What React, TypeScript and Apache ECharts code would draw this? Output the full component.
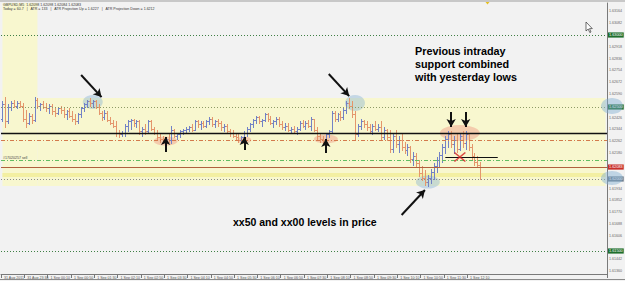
import React, { useEffect, useRef } from "react";
import * as echarts from "echarts";

// ---- OHLC data (GBPUSD M5) ----
const opens = [
  1.6242, 1.6252, 1.6240, 1.6250, 1.6253, 1.6251, 1.6253, 1.6251, 1.6242, 1.6239,
  1.6244, 1.6241, 1.6255, 1.6251, 1.6252, 1.6250, 1.6249, 1.6251, 1.6247, 1.6246,
  1.6249, 1.6248, 1.6245, 1.6247, 1.6244, 1.6242, 1.6240, 1.6245, 1.6249, 1.6252,
  1.6254, 1.6253, 1.6254, 1.6250, 1.6246, 1.6243, 1.6246, 1.6241, 1.6239, 1.6237,
  1.6232, 1.6231, 1.6232, 1.6237, 1.6240, 1.6241, 1.6239, 1.6240, 1.6233, 1.6235,
  1.6233, 1.6240, 1.6235, 1.6232, 1.6229, 1.6228, 1.6226, 1.6228, 1.6227, 1.6234,
  1.6230, 1.6231, 1.6233, 1.6234, 1.6235, 1.6236, 1.6234, 1.6240, 1.6238, 1.6239,
  1.6237, 1.6240, 1.6242, 1.6238, 1.6240, 1.6239, 1.6236, 1.6237, 1.6233, 1.6232,
  1.6230, 1.6229, 1.6227, 1.6229, 1.6232, 1.6235, 1.6238, 1.6241, 1.6243, 1.6240,
  1.6241, 1.6245, 1.6242, 1.6239, 1.6240, 1.6242, 1.6238, 1.6236, 1.6237, 1.6234,
  1.6235, 1.6233, 1.6235, 1.6239, 1.6237, 1.6239, 1.6237, 1.6242, 1.6234, 1.6230,
  1.6228, 1.6227, 1.6231, 1.6233, 1.6246, 1.6242, 1.6245, 1.6243, 1.6248, 1.6253,
  1.6251, 1.6245, 1.6231, 1.6237, 1.6240, 1.6238, 1.6236, 1.6233, 1.6237, 1.6235,
  1.6236, 1.6229, 1.6234, 1.6229, 1.6221, 1.6230, 1.6224, 1.6227, 1.6222, 1.6220,
  1.6222, 1.6214, 1.6216, 1.6211, 1.6204, 1.6201, 1.6198, 1.6201, 1.6205, 1.6209,
  1.6213, 1.6217, 1.6222, 1.6228, 1.6231, 1.6224, 1.6227, 1.6221, 1.6230, 1.6225,
  1.6231, 1.6222, 1.6216, 1.6212, 1.6210,
];
const highs = [
  1.6254, 1.6257, 1.6252, 1.6254, 1.6255, 1.6254, 1.6254, 1.6253, 1.6248, 1.6246,
  1.6245, 1.6257, 1.6256, 1.6253, 1.6254, 1.6253, 1.6252, 1.6252, 1.6249, 1.6250,
  1.6251, 1.6250, 1.6248, 1.6249, 1.6247, 1.6245, 1.6246, 1.6250, 1.6253, 1.6255,
  1.6256, 1.6255, 1.6255, 1.6252, 1.6247, 1.6248, 1.6247, 1.6243, 1.6241, 1.6240,
  1.6234, 1.6233, 1.6238, 1.6241, 1.6242, 1.6242, 1.6241, 1.6241, 1.6236, 1.6238,
  1.6241, 1.6241, 1.6236, 1.6234, 1.6231, 1.6230, 1.6229, 1.6231, 1.6237, 1.6235,
  1.6232, 1.6234, 1.6235, 1.6236, 1.6237, 1.6238, 1.6241, 1.6241, 1.6240, 1.6240,
  1.6241, 1.6243, 1.6243, 1.6241, 1.6242, 1.6240, 1.6238, 1.6238, 1.6235, 1.6234,
  1.6232, 1.6231, 1.6230, 1.6233, 1.6236, 1.6239, 1.6242, 1.6244, 1.6244, 1.6242,
  1.6246, 1.6246, 1.6244, 1.6241, 1.6243, 1.6243, 1.6240, 1.6239, 1.6239, 1.6236,
  1.6237, 1.6236, 1.6240, 1.6241, 1.6240, 1.6241, 1.6243, 1.6242, 1.6236, 1.6232,
  1.6230, 1.6232, 1.6234, 1.6247, 1.6247, 1.6246, 1.6247, 1.6249, 1.6254, 1.6256,
  1.6254, 1.6247, 1.6238, 1.6242, 1.6241, 1.6240, 1.6238, 1.6238, 1.6240, 1.6238,
  1.6240, 1.6236, 1.6235, 1.6234, 1.6232, 1.6234, 1.6230, 1.6231, 1.6226, 1.6224,
  1.6223, 1.6219, 1.6218, 1.6213, 1.6209, 1.6206, 1.6203, 1.6207, 1.6211, 1.6215,
  1.6219, 1.6224, 1.6230, 1.6233, 1.6233, 1.6230, 1.6231, 1.6232, 1.6233, 1.6233,
  1.6232, 1.6224, 1.6218, 1.6216, 1.6212,
];
const lows = [
  1.6240, 1.6236, 1.6239, 1.6248, 1.6250, 1.6249, 1.6250, 1.6240, 1.6236, 1.6238,
  1.6239, 1.6240, 1.6249, 1.6248, 1.6249, 1.6247, 1.6246, 1.6245, 1.6244, 1.6245,
  1.6246, 1.6243, 1.6242, 1.6243, 1.6240, 1.6238, 1.6239, 1.6243, 1.6247, 1.6250,
  1.6251, 1.6250, 1.6249, 1.6245, 1.6241, 1.6242, 1.6240, 1.6238, 1.6236, 1.6230,
  1.6229, 1.6230, 1.6230, 1.6233, 1.6235, 1.6237, 1.6236, 1.6231, 1.6230, 1.6231,
  1.6232, 1.6234, 1.6231, 1.6228, 1.6226, 1.6225, 1.6225, 1.6226, 1.6225, 1.6229,
  1.6228, 1.6229, 1.6231, 1.6232, 1.6233, 1.6233, 1.6234, 1.6236, 1.6235, 1.6236,
  1.6236, 1.6238, 1.6237, 1.6236, 1.6237, 1.6234, 1.6233, 1.6232, 1.6230, 1.6229,
  1.6227, 1.6226, 1.6225, 1.6227, 1.6230, 1.6233, 1.6236, 1.6239, 1.6239, 1.6237,
  1.6240, 1.6240, 1.6238, 1.6236, 1.6238, 1.6237, 1.6235, 1.6234, 1.6233, 1.6232,
  1.6232, 1.6231, 1.6234, 1.6236, 1.6235, 1.6236, 1.6234, 1.6233, 1.6228, 1.6226,
  1.6225, 1.6226, 1.6229, 1.6232, 1.6240, 1.6240, 1.6241, 1.6242, 1.6246, 1.6249,
  1.6243, 1.6228, 1.6230, 1.6235, 1.6236, 1.6234, 1.6232, 1.6231, 1.6234, 1.6233,
  1.6228, 1.6228, 1.6227, 1.6219, 1.6219, 1.6222, 1.6219, 1.6220, 1.6218, 1.6217,
  1.6212, 1.6210, 1.6209, 1.6202, 1.6199, 1.6196, 1.6195, 1.6197, 1.6200, 1.6205,
  1.6208, 1.6212, 1.6218, 1.6222, 1.6222, 1.6218, 1.6219, 1.6220, 1.6222, 1.6221,
  1.6220, 1.6214, 1.6210, 1.6208, 1.6200,
];
const closes = [
  1.6252, 1.6240, 1.6250, 1.6253, 1.6251, 1.6253, 1.6251, 1.6242, 1.6239, 1.6244,
  1.6241, 1.6255, 1.6251, 1.6252, 1.6250, 1.6249, 1.6251, 1.6247, 1.6246, 1.6249,
  1.6248, 1.6245, 1.6247, 1.6244, 1.6242, 1.6240, 1.6245, 1.6249, 1.6252, 1.6254,
  1.6253, 1.6254, 1.6250, 1.6246, 1.6243, 1.6246, 1.6241, 1.6239, 1.6237, 1.6232,
  1.6231, 1.6232, 1.6237, 1.6240, 1.6241, 1.6239, 1.6240, 1.6233, 1.6235, 1.6233,
  1.6240, 1.6235, 1.6232, 1.6229, 1.6228, 1.6226, 1.6228, 1.6227, 1.6234, 1.6230,
  1.6231, 1.6233, 1.6234, 1.6235, 1.6236, 1.6234, 1.6240, 1.6238, 1.6239, 1.6237,
  1.6240, 1.6242, 1.6238, 1.6240, 1.6239, 1.6236, 1.6237, 1.6233, 1.6232, 1.6230,
  1.6229, 1.6227, 1.6229, 1.6232, 1.6235, 1.6238, 1.6241, 1.6243, 1.6240, 1.6241,
  1.6245, 1.6242, 1.6239, 1.6240, 1.6242, 1.6238, 1.6236, 1.6237, 1.6234, 1.6235,
  1.6233, 1.6235, 1.6239, 1.6237, 1.6239, 1.6237, 1.6242, 1.6234, 1.6230, 1.6228,
  1.6227, 1.6231, 1.6233, 1.6246, 1.6242, 1.6245, 1.6243, 1.6248, 1.6253, 1.6251,
  1.6245, 1.6231, 1.6237, 1.6240, 1.6238, 1.6236, 1.6233, 1.6237, 1.6235, 1.6236,
  1.6229, 1.6234, 1.6229, 1.6221, 1.6230, 1.6224, 1.6227, 1.6222, 1.6220, 1.6222,
  1.6214, 1.6216, 1.6211, 1.6204, 1.6201, 1.6198, 1.6201, 1.6205, 1.6209, 1.6213,
  1.6217, 1.6222, 1.6228, 1.6231, 1.6224, 1.6227, 1.6221, 1.6230, 1.6225, 1.6231,
  1.6222, 1.6216, 1.6212, 1.6210, 1.62083,
];

// ---- axis labels ----
const xTickLabels = [
  "31 Aug 2011", "31 Aug 23:30", "1 Sep 00:10", "1 Sep 00:50", "1 Sep 01:30",
  "1 Sep 02:10", "1 Sep 02:50", "1 Sep 03:30", "1 Sep 04:10", "1 Sep 04:50",
  "1 Sep 05:30", "1 Sep 06:10", "1 Sep 06:50", "1 Sep 07:30", "1 Sep 08:10",
  "1 Sep 08:50", "1 Sep 09:30", "1 Sep 10:10", "1 Sep 10:50", "1 Sep 11:30",
  "1 Sep 12:10",
];
const yTickValues = [
  1.63164, 1.63082, 1.62918, 1.62836, 1.62754, 1.62672, 1.6259, 1.62426,
  1.62344, 1.62262, 1.6218, 1.61934, 1.61852, 1.6177, 1.61688, 1.61606,
  1.61442, 1.6136,
];

// levels (horizontal lines)
const levelPrices = {
  round163: 1.63,
  round1625: 1.625,
  support: 1.62319,
  orangeDash: 1.62271,
  sellOrder: 1.62132,
  bid: 1.62083,
  round162: 1.62,
  round1615: 1.615,
  shortLine: 1.62153,
};

const N_CATS = 208;
const LABEL_STEP = 8;
const startMs = Date.UTC(2011, 7, 31, 22, 50);
const categories = Array.from({ length: N_CATS }, (_, i) => {
  const d = new Date(startMs + i * 5 * 60000);
  const hh = String(d.getUTCHours()).padStart(2, "0");
  const mm = String(d.getUTCMinutes()).padStart(2, "0");
  return `${d.getUTCDate()} ${d.getUTCMonth() === 7 ? "Aug" : "Sep"} ${hh}:${mm}`;
});

const Y_MIN = 1.613403;
const Y_MAX = 1.632222;
const UP = "#7282c6";
const DOWN = "#e4966c";
const FONT = "'Liberation Sans', Arial, sans-serif";

const ohlc = opens.map((o, i) => [i, o, closes[i], lows[i], highs[i]]);

// annotation anchors (category index, price)
const blueSpots = [
  { at: [31, 1.62535], size: [20, 14] },
  { at: [121, 1.62528], size: [20, 16] },
  { at: [146, 1.61979], size: [24, 13] },
];
const redSpots = [
  { at: [56, 1.62264], size: [24, 9] },
  { at: [83, 1.62271], size: [14, 7] },
  { at: [111, 1.62278], size: [24, 9] },
  { at: [157, 1.62319], size: [40, 16] },
];
const arrows = [
  [[27, 1.62722], [34, 1.62569]],
  [[112, 1.62729], [119, 1.62576]],
  [[56, 1.62188], [56, 1.62292]],
  [[83, 1.62201], [83, 1.62292]],
  [[111, 1.62181], [111, 1.62278]],
  [[154, 1.62465], [154, 1.62361]],
  [[159, 1.62465], [159, 1.62361]],
  [[137, 1.6175], [145, 1.61924]],
];

function priceLabel(text: string, bg: string) {
  return {
    show: true,
    position: "end",
    formatter: text,
    distance: 1,
    color: "#fff",
    fontSize: 3.8,
    fontFamily: FONT,
    backgroundColor: bg,
    padding: [0.6, 1],
  };
}

export default function App() {
  const ref = useRef<HTMLDivElement>(null);
  useEffect(() => {
    const chart = echarts.init(ref.current!, null, { renderer: "svg" });
    const option: any = {
      animation: false,
      backgroundColor: "#f2f2f2",
      grid: { left: 1, right: 15, top: 3, bottom: 7, containLabel: false },
      xAxis: {
        type: "category",
        data: categories,
        boundaryGap: true,
        axisLine: { lineStyle: { color: "#7a7a7a", width: 1 } },
        axisTick: {
          show: true,
          length: 4,
          interval: (i: number) => i % LABEL_STEP === 0 && i / LABEL_STEP < xTickLabels.length,
          lineStyle: { color: "#777" },
        },
        axisLabel: {
          interval: (i: number) => i % LABEL_STEP === 0 && i / LABEL_STEP < xTickLabels.length,
          formatter: (_v: string, i: number) => xTickLabels[i / LABEL_STEP] ?? "",
          fontSize: 3.6,
          color: "#555",
          fontFamily: FONT,
          align: "left",
          margin: 1.5,
          padding: [0, 0, 0, 1.5],
        },
        splitLine: { show: false },
      },
      yAxis: {
        type: "value",
        position: "right",
        min: Y_MIN,
        max: Y_MAX,
        axisLine: { show: true, lineStyle: { color: "#7a7a7a", width: 1 } },
        axisTick: { show: false },
        splitLine: { show: false },
        axisLabel: {
          customValues: yTickValues,
          formatter: (v: number) => v.toFixed(5),
          fontSize: 3.6,
          color: "#666",
          fontFamily: FONT,
          margin: 2,
        },
      },
      series: [
        {
          name: "bands",
          type: "line",
          data: [],
          z: 0,
          silent: true,
          markArea: {
            silent: true,
            data: [
              [
                { xAxis: 0, yAxis: Y_MAX, itemStyle: { color: "#f8f7cf" } },
                { xAxis: 12, yAxis: 1.61951 },
              ],
              [
                { xAxis: 12, yAxis: 1.62563, itemStyle: { color: "#f8f7cf" } },
                { xAxis: N_CATS - 1, yAxis: 1.61951 },
              ],
              [
                { xAxis: 0, yAxis: 1.62042, itemStyle: { color: "#f3efa2" } },
                { xAxis: N_CATS - 1, yAxis: 1.62014 },
              ],
            ],
          },
        },
        {
          name: "levels",
          type: "line",
          data: [],
          z: 1,
          silent: true,
          markLine: {
            silent: true,
            symbol: ["none", "none"],
            precision: 5,
            data: [
              { yAxis: levelPrices.round163, lineStyle: { color: "#3f7f45", type: [1, 2], width: 1 }, label: priceLabel("1.63000", "#1e6e2c") },
              { yAxis: levelPrices.round1625, lineStyle: { color: "#8e9a66", type: [1, 2], width: 1 }, label: priceLabel("1.62500", "#1e6e2c") },
              { yAxis: levelPrices.support, lineStyle: { color: "#111", type: "solid", width: 1.4 }, label: { show: false } },
              { yAxis: levelPrices.orangeDash, lineStyle: { color: "#d47a4c", type: [4, 2, 1, 2], width: 1 }, label: { show: false } },
              { yAxis: levelPrices.sellOrder, lineStyle: { color: "#62bd62", type: [4, 2, 1, 2], width: 1 }, label: { show: false } },
              { yAxis: levelPrices.bid, lineStyle: { color: "#b0603e", type: "solid", width: 1 }, label: priceLabel("1.62083", "#c8302a") },
              { yAxis: levelPrices.round162, lineStyle: { color: "#8a8a8a", type: [1, 2], width: 1 }, label: priceLabel("1.62000", "#6d7c8c") },
              { yAxis: levelPrices.round1615, lineStyle: { color: "#3f7f45", type: [1, 2], width: 1 }, label: priceLabel("1.61500", "#1e6e2c") },
              [
                { coord: [152, levelPrices.shortLine], lineStyle: { color: "#111", type: "solid", width: 1.2 }, label: { show: false } },
                { coord: [170, levelPrices.shortLine] },
              ],
            ],
          },
        },
        {
          name: "spots",
          type: "scatter",
          z: 2,
          silent: true,
          clip: false,
          data: [
            ...blueSpots.map((s) => ({ value: s.at, symbolSize: s.size, itemStyle: { color: "rgba(128,176,210,0.5)" } })),
            ...redSpots.map((s) => ({ value: s.at, symbolSize: s.size, itemStyle: { color: "rgba(240,150,130,0.55)" } })),
          ],
        },
        {
          name: "GBPUSD",
          type: "custom",
          z: 3,
          data: ohlc,
          encode: { x: 0, y: [1, 2, 3, 4] },
          renderItem: (_p: any, api: any) => {
            const i = api.value(0);
            const o = api.value(1);
            const c = api.value(2);
            const l = api.value(3);
            const h = api.value(4);
            const top = api.coord([i, h]);
            const bot = api.coord([i, l]);
            const po = api.coord([i, o]);
            const pc = api.coord([i, c]);
            const x = Math.round(top[0]) + 0.5;
            const col = c >= o ? UP : DOWN;
            const st = { stroke: col, lineWidth: 1 };
            const yo = Math.round(po[1]) + 0.5;
            const yc = Math.round(pc[1]) + 0.5;
            return {
              type: "group",
              children: [
                { type: "line", shape: { x1: x, y1: Math.round(top[1]), x2: x, y2: Math.round(bot[1]) + 1 }, style: st },
                { type: "line", shape: { x1: x - 1.5, y1: yo, x2: x, y2: yo }, style: st },
                { type: "line", shape: { x1: x, y1: yc, x2: x + 1.5, y2: yc }, style: st },
              ],
            };
          },
        },
        {
          name: "marks",
          type: "scatter",
          z: 5,
          silent: true,
          data: [
            {
              value: [157, levelPrices.shortLine],
              symbol: "path://M0 0L10 9L5 4.5L0 9L10 0L5 4.5Z",
              symbolSize: [11, 9],
              itemStyle: { color: "none", borderColor: "#d42020", borderWidth: 1.4 },
            },
          ],
        },
        {
          name: "arrows",
          type: "line",
          data: [],
          z: 6,
          silent: true,
          markLine: {
            silent: true,
            symbol: ["none", "arrow"],
            symbolSize: [7, 8],
            label: { show: false },
            lineStyle: { color: "#111", width: 2, type: "solid" },
            data: arrows.map(([a, b]) => [{ coord: a }, { coord: b }]),
          },
        },
      ],
      graphic: [
        { type: "rect", shape: { x: 0, y: 0, width: 625, height: 2 }, style: { fill: "#c8c8c8" }, z: 10 },
        { type: "line", shape: { x1: 0, y1: 279.5, x2: 625, y2: 279.5 }, style: { stroke: "#8a8a8a", lineWidth: 1 }, z: 10 },
        {
          type: "text", left: 3, top: 3, z: 20,
          style: { text: "GBPUSD,M5  1.62098 1.62098 1.62084 1.62083", fontSize: 3.6, fill: "#333", fontFamily: FONT },
        },
        {
          type: "text", left: 3, top: 6.5, z: 20,
          style: { text: "Today = 60.7   |   ATR = 133   |   ATR Projection Up = 1.6227   |   ATR Projection Down = 1.6212", fontSize: 3.6, fill: "#333", fontFamily: FONT },
        },
        {
          type: "text", left: 3, top: 156, z: 20,
          style: { text: "#17020257 sell", fontSize: 3.6, fill: "#444", fontFamily: FONT },
        },
        {
          type: "text", left: 415, top: 44, z: 20,
          style: { text: "Previous intraday\nsupport combined\nwith yesterday lows", fontSize: 10.8, lineHeight: 13, fontWeight: "bold", fill: "#000", fontFamily: FONT },
        },
        {
          type: "text", left: 233, top: 216, z: 20,
          style: { text: "xx50 and xx00 levels in price", fontSize: 10.5, fontWeight: "bold", fill: "#000", fontFamily: FONT },
        },
        { type: "ellipse", shape: { cx: 612, cy: 106, rx: 11, ry: 8 }, style: { fill: "rgba(128,176,210,0.45)" }, z: 20 },
        { type: "ellipse", shape: { cx: 612, cy: 178, rx: 11, ry: 7 }, style: { fill: "rgba(128,176,210,0.45)" }, z: 20 },
        {
          type: "polygon", z: 20,
          shape: { points: [[586, 22], [586, 31], [588.2, 29], [589.8, 32.6], [591, 32], [589.5, 28.6], [592.3, 28.6]] },
          style: { fill: "#fff", stroke: "#333", lineWidth: 0.7 },
        },
        {
          type: "polygon", z: 20,
          shape: { points: [[485.5, 2], [489.5, 2], [487.5, 4.5]] },
          style: { fill: "#e6c020" },
        },
      ],
    };
    chart.setOption(option);
    return () => chart.dispose();
  }, []);
  return <div ref={ref} style={{ position: "fixed", left: 0, top: 0, width: 625, height: 281 }} />;
}
